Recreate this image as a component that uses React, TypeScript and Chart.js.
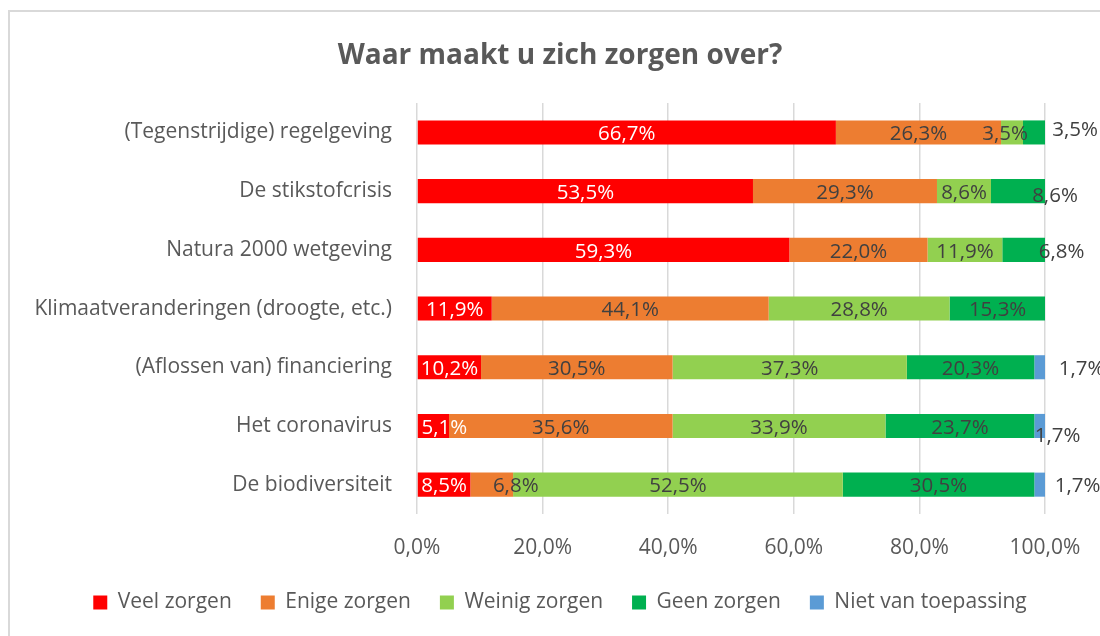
import React, { useEffect, useRef } from 'react';
import { Chart, registerables } from 'chart.js';

Chart.register(...registerables);

const FONT = '"Open Sans", sans-serif';

const categories = [
  '(Tegenstrijdige) regelgeving',
  'De stikstofcrisis',
  'Natura 2000 wetgeving',
  'Klimaatveranderingen (droogte, etc.)',
  '(Aflossen van) financiering',
  'Het coronavirus',
  'De biodiversiteit',
];
const seriesNames = ['Veel zorgen', 'Enige zorgen', 'Weinig zorgen', 'Geen zorgen', 'Niet van toepassing'];
const veelZorgen = [66.7, 53.5, 59.3, 11.9, 10.2, 5.1, 8.5];
const enigeZorgen = [26.3, 29.3, 22.0, 44.1, 30.5, 35.6, 6.8];
const weinigZorgen = [3.5, 8.6, 11.9, 28.8, 37.3, 33.9, 52.5];
const geenZorgen = [3.5, 8.6, 6.8, 15.3, 20.3, 23.7, 30.5];
const nietVanToepassing = [0, 0, 0, 0, 1.7, 1.7, 1.7];
const seriesColors = ['#FF0000', '#ED7D31', '#92D050', '#00B050', '#5B9BD5'];
const xTickValues = [0, 20, 40, 60, 80, 100];

// label nudges (dataset-index -> [dx, dy]) mimicking the original label placement
const labelShift: Record<string, [number, number]> = {
  '2-0': [-7, 0],
  '3-0': [41, -4],
  '3-1': [37, 3],
  '3-2': [38, 0],
  '4-4': [42, 0],
  '4-5': [18, 8],
  '4-6': [38, 0],
  '0-5': [11, 0],
  '1-6': [24, 0],
};

const fmt = (v: number) => v.toFixed(1).replace('.', ',') + '%';

const labelPlugin = {
  id: 'segLabels',
  afterDatasetsDraw(chart: any) {
    const ctx = chart.ctx;
    ctx.save();
    ctx.font = `20.5px ${FONT}`;
    ctx.textAlign = 'center';
    ctx.textBaseline = 'middle';
    chart.data.datasets.forEach((ds: any, di: number) => {
      const meta = chart.getDatasetMeta(di);
      meta.data.forEach((el: any, i: number) => {
        const v = ds.data[i];
        if (!v) return;
        const p = el.getProps(['x', 'base', 'y'], true);
        const [dx, dy] = labelShift[`${di}-${i}`] || [0, 0];
        ctx.fillStyle = di === 0 ? '#ffffff' : '#404040';
        ctx.fillText(fmt(v), (p.x + p.base) / 2 + dx, p.y + 2 + dy);
      });
    });
    ctx.restore();
  },
};

export default function App() {
  const ref = useRef<HTMLCanvasElement>(null);
  useEffect(() => {
    document.documentElement.style.overflow = 'hidden';
    document.body.style.overflow = 'hidden';
    const values = [veelZorgen, enigeZorgen, weinigZorgen, geenZorgen, nietVanToepassing];
    const chart = new Chart(ref.current!, {
      type: 'bar',
      data: {
        labels: categories,
        datasets: seriesNames.map((name, i) => ({
          label: name,
          data: values[i],
          backgroundColor: seriesColors[i],
          borderWidth: 0,
          categoryPercentage: 0.5,
          barPercentage: 0.82,
        })),
      },
      options: {
        responsive: false,
        animation: false,
        indexAxis: 'y',
        layout: { padding: { left: 0, right: 0, top: 0, bottom: 13 } },
        plugins: {
          title: {
            display: true,
            text: 'Waar maakt u zich zorgen over?',
            color: '#595959',
            font: { family: FONT, size: 28, weight: 'bold' },
            padding: { top: 27, bottom: 30.5 },
          },
          legend: {
            position: 'bottom',
            labels: {
              color: '#595959',
              font: { family: FONT, size: 21 },
              boxWidth: 14,
              boxHeight: 14,
              padding: 29,
            },
          },
          tooltip: { enabled: false },
        },
        scales: {
          x: {
            type: 'linear',
            stacked: true,
            min: 0,
            max: 100,
            afterBuildTicks: (scale: any) => {
              scale.ticks = xTickValues.map((v) => ({ value: v }));
            },
            ticks: {
              callback: (v: any) => fmt(Number(v)),
              color: '#595959',
              font: { family: FONT, size: 21 },
              padding: 21,
              maxRotation: 0,
            },
            grid: { color: '#d9d9d9', lineWidth: 1.5, drawTicks: false },
            border: { display: false },
            afterFit: (scale: any) => {
              scale.height = 49;
            },
          },
          y: {
            type: 'category',
            stacked: true,
            ticks: {
              color: '#595959',
              font: { family: FONT, size: 21 },
              padding: 17,
            },
            grid: { display: false },
            border: { display: false },
            afterFit: (scale: any) => {
              scale.width = 407;
            },
          },
          yRight: {
            type: 'linear',
            position: 'right',
            display: true,
            ticks: { display: false },
            grid: { display: false },
            border: { display: false },
            afterFit: (scale: any) => {
              scale.width = 65;
            },
          },
        },
      } as any,
      plugins: [labelPlugin],
    });
    return () => chart.destroy();
  }, []);
  return (
    <div
      style={{
        position: 'absolute',
        left: 8,
        top: 10,
        borderTop: '2px solid #d9d9d9',
        borderLeft: '2px solid #d9d9d9',
        width: 1100,
        height: 624,
      }}
    >
      <canvas ref={ref} width={1100} height={624} style={{ display: 'block' }} />
    </div>
  );
}
